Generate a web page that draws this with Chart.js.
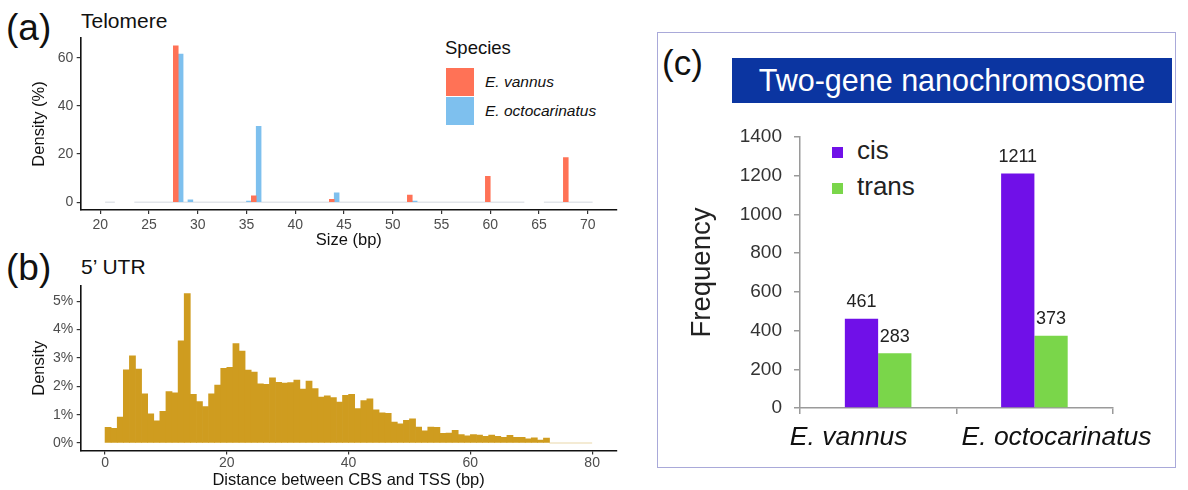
<!DOCTYPE html>
<html><head><meta charset="utf-8">
<script src="https://cdn.jsdelivr.net/npm/chart.js@4.4.1/dist/chart.umd.min.js"></script>
<style>
html,body{margin:0;padding:0;background:#fff;}
body{width:1188px;height:490px;position:relative;overflow:hidden;font-family:"Liberation Sans",Arial,sans-serif;}
.t{position:absolute;white-space:nowrap;line-height:1;transform:translateY(-50%);color:#111;}
canvas{position:absolute;}
.sw{position:absolute;}
</style></head><body>

<div class="t" style="left:6px;top:27px;font-size:37px;">(a)</div>
<div class="t" style="left:81px;top:20px;font-size:21px;">Telomere</div>
<div class="t" style="left:445px;top:48px;font-size:18.5px;">Species</div>
<div class="sw" id="swRed" style="left:446px;top:68px;width:28px;height:28px;"></div>
<div class="sw" id="swBlue" style="left:446px;top:97px;width:28px;height:28px;"></div>
<div class="t" style="left:485px;top:82px;font-size:15.5px;font-style:italic;">E. vannus</div>
<div class="t" style="left:485px;top:111px;font-size:15.5px;font-style:italic;">E. octocarinatus</div>

<div class="t" style="left:6px;top:267px;font-size:37px;">(b)</div>
<div class="t" style="left:81px;top:266px;font-size:21px;">5’ UTR</div>

<div style="position:absolute;left:657px;top:32px;width:519px;height:436px;box-sizing:border-box;border:1.5px solid #a9a9d9;"></div>
<div class="t" style="left:662px;top:62px;font-size:35px;">(c)</div>
<div style="position:absolute;left:732px;top:58px;width:440px;height:45px;background:#0b35a1;color:#fff;font-size:30.5px;line-height:45px;text-align:center;white-space:nowrap;">Two-gene nanochromosome</div>
<div class="sw" id="swCis" style="left:832px;top:147px;width:11px;height:11px;"></div>
<div class="t" style="left:857px;top:150px;font-size:26px;color:#222;">cis</div>
<div class="sw" id="swTrans" style="left:832px;top:183px;width:11px;height:11px;"></div>
<div class="t" style="left:857px;top:186px;font-size:26px;color:#222;">trans</div>

<canvas id="cA" width="640" height="250" style="left:0;top:0;"></canvas>
<canvas id="cB" width="640" height="240" style="left:0;top:250px;"></canvas>
<canvas id="cC" width="515" height="355" style="left:660px;top:110px;"></canvas>

<script>
// ---------- Panel (a): Telomere size ----------
const sizeTicks = [20, 25, 30, 35, 40, 45, 50, 55, 60, 65, 70];
const densityTicksA = [0, 20, 40, 60];
const vannusBins = [28, 36, 44, 52, 60, 68];
const vannusDensity = [65.0, 2.6, 1.2, 3.0, 10.7, 18.5];
const octoBins = [28, 29, 35, 36, 44, 52];
const octoDensity = [61.6, 1.0, 0.5, 31.5, 3.9, 0.5];
const emptyRangesA = [[20.5, 21.5], [23.5, 63.5], [65.5, 70.5]];

// ---------- Panel (b): 5' UTR distance ----------
const utrBinStarts = [0,1,2,3,4,5,6,7,8,9,10,11,12,13,14,15,16,17,18,19,20,21,22,23,24,25,26,27,28,29,30,31,32,33,34,35,36,37,38,39,40,41,42,43,44,45,46,47,48,49,50,51,52,53,54,55,56,57,58,59,60,61,62,63,64,65,66,67,68,69,70,71,72];
const utrDensity = [0.55,0.52,0.91,2.58,3.07,2.61,1.73,1.03,0.78,1.12,1.81,1.77,3.60,5.27,1.72,1.46,1.28,1.73,2.04,2.63,2.67,3.50,3.24,2.57,2.50,2.09,2.07,2.30,2.14,2.11,2.13,2.22,1.90,2.18,1.92,1.62,1.66,1.60,1.44,1.68,1.72,1.21,1.50,1.56,1.17,1.06,1.05,0.74,0.68,0.80,0.85,0.56,0.43,0.56,0.55,0.34,0.35,0.45,0.30,0.25,0.30,0.28,0.24,0.28,0.24,0.20,0.27,0.20,0.20,0.15,0.18,0.10,0.17];
const utrEmptyRange = [73, 80];
const distTicks = [0, 20, 40, 60, 80];
const densityTicksB = [0, 1, 2, 3, 4, 5];

// ---------- Panel (c): Two-gene nanochromosome ----------
const speciesC = ['E. vannus', 'E. octocarinatus'];
const cisCounts = [461, 1211];
const transCounts = [283, 373];
const freqTicks = [0, 200, 400, 600, 800, 1000, 1200, 1400];

const RED = '#ff7256', BLUE = '#7ec0ee', GOLD = '#cf9c1f', PURPLE = '#7010e8', GREEN = '#7ad64a';
document.getElementById('swRed').style.background = RED;
document.getElementById('swBlue').style.background = BLUE;
document.getElementById('swCis').style.background = PURPLE;
document.getElementById('swTrans').style.background = GREEN;

const FF = '"Liberation Sans", Arial, sans-serif';
Chart.defaults.font.family = FF;
const setTicks = arr => s => { s.ticks = arr.map(v => ({value: v})); };

function rangesToLine(ranges) {
  const pts = [];
  ranges.forEach(([a, b]) => { pts.push({x: a, y: 0}, {x: b, y: 0}, {x: b + 0.01, y: null}); });
  return pts;
}

function ggAxes(opts) {
  return {
    x: {
      type: 'linear', min: opts.xmin, max: opts.xmax, offset: false,
      afterBuildTicks: setTicks(opts.xticks),
      afterFit: s => { s.height = opts.xh; },
      grid: {display: true, offset: false, drawOnChartArea: false, drawTicks: true, tickLength: 4, color: '#333', lineWidth: 1.2},
      border: {display: true, color: '#111', width: 1.6},
      ticks: {font: {size: 14}, color: '#4d4d4d', padding: opts.xpad, maxRotation: 0, autoSkip: false},
      title: {display: true, text: opts.xtitle, font: {size: 16.5}, color: '#111', padding: {top: 0, bottom: 0}}
    },
    y: {
      min: opts.ymin, max: opts.ymax,
      afterBuildTicks: setTicks(opts.yticks),
      afterFit: s => { s.width = 80.7; },
      grid: {display: true, drawOnChartArea: false, drawTicks: true, tickLength: 4, color: '#333', lineWidth: 1.2},
      border: {display: true, color: '#111', width: 1.6},
      ticks: {font: {size: 14}, color: '#4d4d4d', padding: 3.5, callback: opts.ycb},
      title: {display: true, text: opts.ytitle, font: {size: 16.5}, color: '#111', padding: {top: 30, bottom: 0}}
    }
  };
}

new Chart(document.getElementById('cA'), {
  type: 'bar',
  data: {datasets: [
    {label: 'E. vannus', data: vannusBins.map((x, i) => ({x: x, y: vannusDensity[i]})), backgroundColor: RED, barPercentage: 1, categoryPercentage: 1, order: 1},
    {label: 'E. octocarinatus', data: octoBins.map((x, i) => ({x: x, y: octoDensity[i]})), backgroundColor: BLUE, barPercentage: 1, categoryPercentage: 1, order: 2},
    {type: 'line', data: rangesToLine(emptyRangesA), borderColor: '#e2e5ea', borderWidth: 1.5, pointRadius: 0, spanGaps: false, order: 3}
  ]},
  options: {
    responsive: false, animation: false, events: [],
    layout: {padding: {left: 0, top: 38, right: 23, bottom: 0}},
    plugins: {legend: {display: false}, tooltip: {enabled: false}},
    scales: ggAxes({xmin: 18, xmax: 73, xticks: sizeTicks, xh: 40, xpad: 3, xtitle: 'Size (bp)',
                    ymin: -3.25, ymax: 68.25, yticks: densityTicksA, ytitle: 'Density (%)', ycb: v => v})
  }
});

new Chart(document.getElementById('cB'), {
  type: 'bar',
  data: {datasets: [
    {label: "5' UTR", data: utrBinStarts.map((x, i) => ({x: x + 0.5, y: utrDensity[i]})), backgroundColor: GOLD, barPercentage: 1, categoryPercentage: 1, order: 1},
    {type: 'line', data: [{x: utrEmptyRange[0], y: 0}, {x: utrEmptyRange[1], y: 0}], borderColor: '#f1e4c6', borderWidth: 1.5, pointRadius: 0, order: 2}
  ]},
  options: {
    responsive: false, animation: false, events: [],
    layout: {padding: {left: 0, top: 36, right: 23.5, bottom: 0}},
    plugins: {legend: {display: false}, tooltip: {enabled: false}},
    scales: ggAxes({xmin: -4, xmax: 84, xticks: distTicks, xh: 39.5, xpad: 0, xtitle: 'Distance between CBS and TSS (bp)',
                    ymin: -0.2635, ymax: 5.5335, yticks: densityTicksB, ytitle: 'Density', ycb: v => v + '%'})
  }
});

const valueLabels = {
  id: 'valueLabels',
  afterDatasetsDraw(chart) {
    const ctx = chart.ctx;
    ctx.save();
    ctx.font = '18px ' + FF;
    ctx.fillStyle = '#222';
    ctx.textAlign = 'center';
    ctx.textBaseline = 'alphabetic';
    chart.data.datasets.forEach((ds, di) => {
      chart.getDatasetMeta(di).data.forEach((el, i) => {
        ctx.fillText(String(ds.data[i]), el.x, el.y - 11.5);
      });
    });
    ctx.restore();
  }
};

// the category names in the original sit off-centre (left one shifted left, right one shifted right)
const labelPad = [{lead: 0, trail: 8}, {lead: 6, trail: 0}];

new Chart(document.getElementById('cC'), {
  type: 'bar',
  data: {labels: speciesC, datasets: [
    {label: 'cis', data: cisCounts, backgroundColor: PURPLE, barPercentage: 1, categoryPercentage: 0.426},
    {label: 'trans', data: transCounts, backgroundColor: GREEN, barPercentage: 1, categoryPercentage: 0.426}
  ]},
  options: {
    responsive: false, animation: false, events: [],
    layout: {padding: {left: 0, top: 27, right: 62, bottom: 0}},
    plugins: {legend: {display: false}, tooltip: {enabled: false}},
    scales: {
      x: {
        offset: true,
        afterFit: s => { s.height = 57; },
        grid: {display: true, offset: true, drawOnChartArea: false, tickLength: 6, color: '#9a9a9a', lineWidth: 1.5},
        border: {display: true, color: '#9a9a9a', width: 1.5},
        ticks: {font: {size: 26.5, style: 'italic'}, color: '#111', padding: 8, maxRotation: 0, autoSkip: false,
                callback: (v, i) => ' '.repeat(labelPad[i].lead) + speciesC[i] + ' '.repeat(labelPad[i].trail)}
      },
      y: {
        min: 0, max: 1400,
        afterBuildTicks: setTicks(freqTicks),
        afterFit: s => { s.width = 140; },
        grid: {display: true, drawOnChartArea: false, tickLength: 6, color: '#9a9a9a', lineWidth: 1.5},
        border: {display: true, color: '#9a9a9a', width: 1.5},
        ticks: {font: {size: 19}, color: '#333', padding: 12, callback: v => String(v)},
        title: {display: true, text: 'Frequency', font: {size: 27.5}, color: '#222', padding: {top: 26, bottom: 0}}
      }
    }
  },
  plugins: [valueLabels]
});
</script>
</body></html>
